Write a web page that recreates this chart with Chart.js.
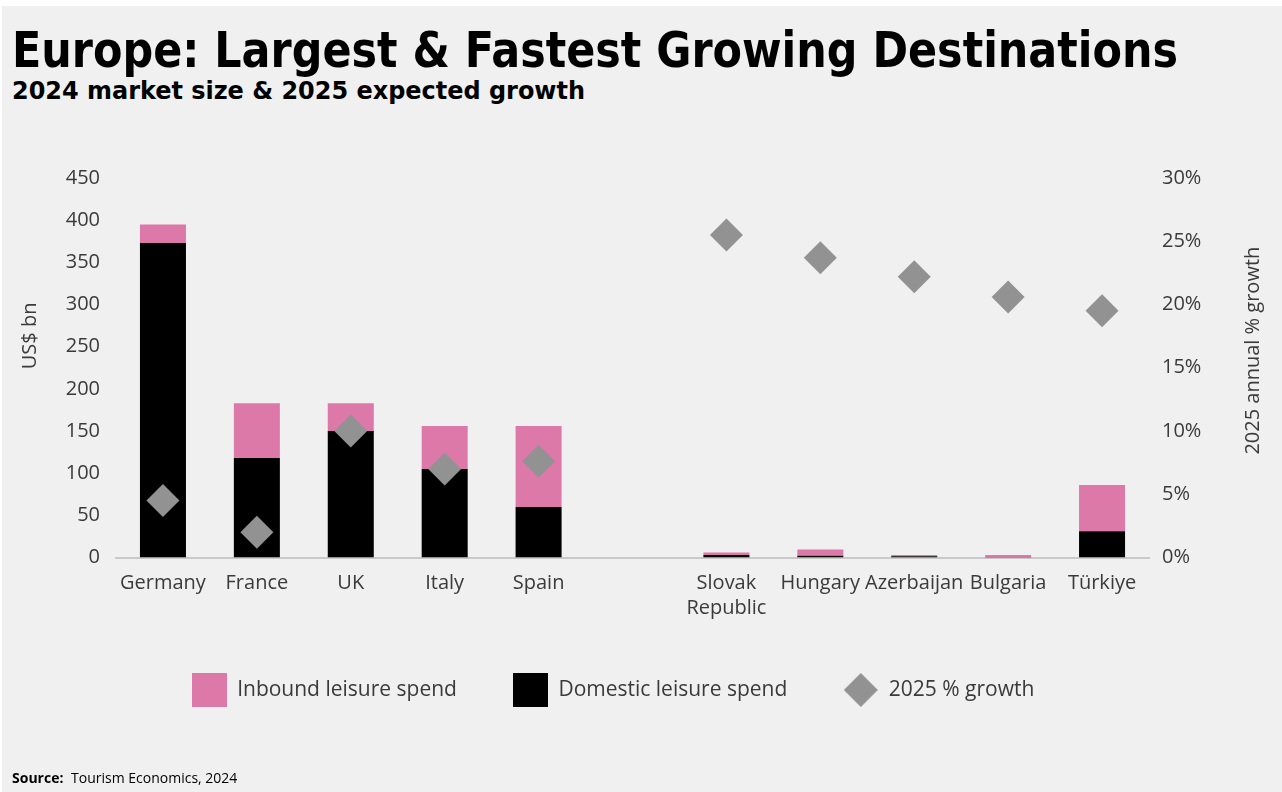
<!DOCTYPE html>
<html>
<head>
<meta charset="utf-8">
<title>Europe: Largest &amp; Fastest Growing Destinations</title>
<script src="https://cdn.jsdelivr.net/npm/chart.js@4.4.1/dist/chart.umd.min.js"></script>
<style>
  html, body { margin: 0; padding: 0; background: #ffffff; }
  #page { position: absolute; left: 0; top: 0; width: 1282px; height: 792px; background: #f0f0f0; overflow: hidden; }
  #edgeTop { position: absolute; left: 0; top: 0; width: 1282px; height: 6px; background: #ffffff; }
  #edgeLeft { position: absolute; left: 0; top: 0; width: 2px; height: 792px; background: #ffffff; }
  .head { position: absolute; left: 12px; white-space: nowrap; transform-origin: 0 0; color: #000;
          font-family: "Liberation Sans Narrow", "DejaVu Sans Condensed", "Liberation Sans", sans-serif; font-weight: bold; }
  #title { top: 26px; font-size: 49px; line-height: 49px; }
  #subtitle { top: 78px; font-size: 25.5px; line-height: 25.5px; }
  #source { position: absolute; left: 12px; top: 770px; font-family: "Open Sans", "Liberation Sans", sans-serif;
            font-size: 14px; line-height: 16px; color: #000; white-space: nowrap; }
  #source b { font-weight: 700; margin-right: 4px; }
  #chartBox { position: absolute; left: 0; top: 0; width: 1282px; height: 792px; }
</style>
</head>
<body>
<div id="page">
  <div id="edgeTop"></div>
  <div id="edgeLeft"></div>
  <div id="title" class="head" data-width="1166">Europe: Largest &amp; Fastest Growing Destinations</div>
  <div id="subtitle" class="head" data-width="573">2024 market size &amp; 2025 expected growth</div>
  <div id="chartBox"><canvas id="chart"></canvas></div>
  <div id="source"><b>Source:</b> Tourism Economics, 2024</div>
</div>
<script>
// Destinations: five largest markets, a spacer, then five fastest growing
const categories = ['Germany', 'France', 'UK', 'Italy', 'Spain', '', ['Slovak', 'Republic'], 'Hungary', 'Azerbaijan', 'Bulgaria', 'Türkiye'];

// 2024 leisure spend, US$ bn
const domesticSpend = [373, 118, 150, 105, 60, null, 3, 2, 1.5, 0.5, 31];
const inboundSpend  = [22, 65, 33, 51, 96, null, 3, 7.5, 1.5, 2.5, 55];

// 2025 expected annual growth, %
const growthPct = [4.5, 2.0, 10.0, 7.0, 7.6, null, 25.5, 23.7, 22.2, 20.6, 19.5];

// Axis ranges
const spendMax = 450, spendStep = 50;
const growthMax = 30, growthStep = 5;

const PINK = '#dc79a9';
const BLACK = '#000000';
const GREY = '#929292';
const TEXT = '#3a3a3a';
const FONT = '"Open Sans", "Liberation Sans", sans-serif';

// Scale headings to their set widths
document.querySelectorAll('.head').forEach(el => {
  const w = el.getBoundingClientRect().width;
  el.style.transform = 'scaleX(' + (parseFloat(el.dataset.width) / w) + ')';
});

// Legend swatches
function swatch(draw, w, h) {
  const c = document.createElement('canvas');
  c.width = w; c.height = h;
  draw(c.getContext('2d'), w, h);
  return c;
}
const pinkBox = swatch((g, w, h) => { g.fillStyle = PINK; g.fillRect(0, 0, w, h); }, 35, 34);
const blackBox = swatch((g, w, h) => { g.fillStyle = BLACK; g.fillRect(0, 0, w, h); }, 35, 34);
const greyDiamond = swatch((g, w, h) => {
  g.fillStyle = GREY; g.beginPath();
  g.moveTo(w / 2, 0); g.lineTo(w, h / 2); g.lineTo(w / 2, h); g.lineTo(0, h / 2); g.closePath(); g.fill();
}, 34, 34);

// Rotated axis headings
const axisTitles = {
  id: 'axisTitles',
  afterDraw(chart) {
    const { ctx, chartArea: a } = chart;
    const h = a.bottom - a.top;
    ctx.save();
    ctx.font = '20px ' + FONT;
    ctx.fillStyle = TEXT;
    ctx.textAlign = 'center';
    ctx.textBaseline = 'middle';
    ctx.translate(30, a.top + h * 0.416);
    ctx.rotate(-Math.PI / 2);
    ctx.fillText('US$ bn', 0, 0);
    ctx.restore();
    ctx.save();
    ctx.font = '20px ' + FONT;
    ctx.fillStyle = TEXT;
    ctx.textAlign = 'center';
    ctx.textBaseline = 'middle';
    ctx.translate(1253, a.top + h * 0.455);
    ctx.rotate(-Math.PI / 2);
    ctx.fillText('2025 annual % growth', 0, 0);
    ctx.restore();
  }
};

new Chart(document.getElementById('chart'), {
  data: {
    labels: categories,
    datasets: [
      {
        type: 'line',
        label: '2025 % growth',
        data: growthPct,
        yAxisID: 'y1',
        showLine: false,
        pointStyle: 'rectRot',
        pointRadius: 16.5,
        pointHoverRadius: 16.5,
        pointBackgroundColor: GREY,
        pointBorderWidth: 0,
        backgroundColor: GREY,
        order: 0
      },
      {
        type: 'bar',
        label: 'Domestic leisure spend',
        data: domesticSpend,
        backgroundColor: BLACK,
        yAxisID: 'y',
        stack: 'spend',
        order: 1
      },
      {
        type: 'bar',
        label: 'Inbound leisure spend',
        data: inboundSpend,
        backgroundColor: PINK,
        yAxisID: 'y',
        stack: 'spend',
        order: 1
      }
    ]
  },
  options: {
    responsive: true,
    maintainAspectRatio: false,
    animation: false,
    datasets: { bar: { categoryPercentage: 1, barPercentage: 0.49 } },
    layout: { padding: { top: 178, bottom: 81.5, left: 0, right: 56 } },
    scales: {
      x: {
        stacked: true,
        grid: { display: false, drawTicks: false },
        border: { display: true, color: '#c9c9c9', width: 2 },
        ticks: { autoSkip: false, maxRotation: 0, padding: 13, color: TEXT, font: { family: FONT, size: 20, lineHeight: 1.25 } },
        afterFit(scale) { scale.height = 66; }
      },
      y: {
        position: 'left',
        stacked: true,
        min: 0, max: spendMax,
        grid: { display: false, drawTicks: false },
        border: { display: false },
        ticks: { stepSize: spendStep, padding: 16, color: TEXT, font: { family: FONT, size: 20 } },
        afterFit(scale) { scale.width = 116; }
      },
      y1: {
        position: 'right',
        min: 0, max: growthMax,
        grid: { display: false, drawTicks: false },
        border: { display: false },
        ticks: { stepSize: growthStep, padding: 13, color: TEXT, font: { family: FONT, size: 20 },
                 callback: v => v + '%' },
        afterFit(scale) { scale.width = 133 - 56; }
      }
    },
    plugins: {
      tooltip: { enabled: false },
      legend: {
        position: 'bottom',
        labels: {
          usePointStyle: true,
          pointStyleWidth: 35,
          padding: 56,
          color: TEXT,
          font: { family: FONT, size: 21 },
          generateLabels() {
            return [
              { text: 'Inbound leisure spend', pointStyle: pinkBox, fillStyle: PINK, strokeStyle: PINK, lineWidth: 0, hidden: false, datasetIndex: 2, fontColor: TEXT },
              { text: 'Domestic leisure spend', pointStyle: blackBox, fillStyle: BLACK, strokeStyle: BLACK, lineWidth: 0, hidden: false, datasetIndex: 1, fontColor: TEXT },
              { text: '2025 % growth', pointStyle: greyDiamond, fillStyle: GREY, strokeStyle: GREY, lineWidth: 0, hidden: false, datasetIndex: 0, fontColor: TEXT }
            ];
          }
        }
      }
    }
  },
  plugins: [axisTitles]
});
</script>
</body>
</html>
